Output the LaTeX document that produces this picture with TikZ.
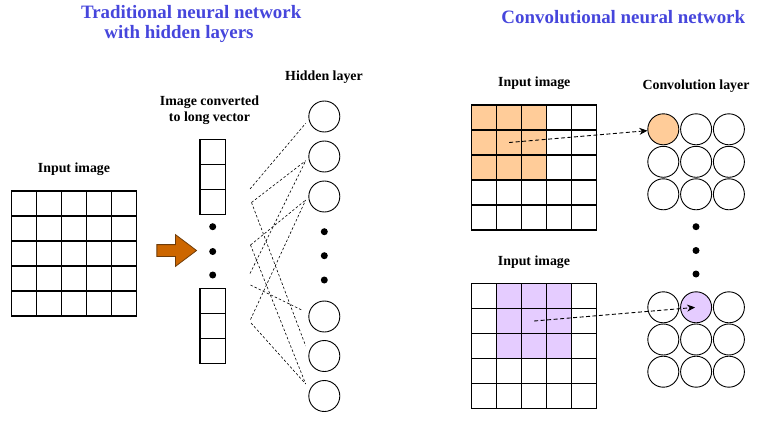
\documentclass[tikz,border=0pt]{standalone}
\usepackage{fontspec}
\setmainfont{Liberation Serif}
\usetikzlibrary{shapes.arrows,arrows.meta}
\definecolor{titleblue}{RGB}{70,70,220}
\definecolor{kernelorange}{RGB}{255,204,153}
\definecolor{kernelpurple}{RGB}{229,204,255}
\definecolor{arroworange}{RGB}{204,102,0}
\definecolor{arrowline}{RGB}{110,60,10}

\begin{document}
\begin{tikzpicture}[
  x=1pt, y=-1pt,
  % GLOBAL CFG
  font=\fontsize{13.9}{15.6}\selectfont\bfseries,
  % Styles
  heading/.style={% For the blue titles
      text=titleblue,
      font=\fontsize{18.9}{20.6}\selectfont\bfseries,
      anchor=base,
      inner sep=0pt,
      },
  mylabel/.style={% Labels over the parts
      anchor=base,
      inner sep=0pt,
      },
  pix/.style={% One pixel of an image
      rectangle,
      draw,
      line width=1.1pt,
      minimum size=25pt,
      inner sep=0pt,
      },
  vec/.style={% One entry of the long vector
      rectangle,
      draw,
      line width=1.1pt,
      minimum width=25.7pt,
      minimum height=25pt,
      inner sep=0pt,
      },
  unit/.style={% Neurons
      circle,
      draw,
      line width=.9pt,
      minimum size=31pt,
      inner sep=0pt,
      },
  vdots/.style={% The three dots
      circle,
      fill=black,
      minimum size=7pt,
      inner sep=0pt,
      },
  wire/.style={% Dashed links to the hidden layer
      line width=.6pt,
      dash pattern=on 2.5pt off 2pt,
      },
  ArrowC1/.style={% Patch to unit
      line width=.9pt,
      dash pattern=on 4pt off 2.5pt,
      -{Stealth[length=8pt,width=7pt]},
      },
  ]

  \useasboundingbox (0,0) rectangle (759,425);

  % Titles
  \node [heading] (tradA) at (191.2,18.3) {Traditional neural network};
  \node [heading] (tradB) at (179,38.3) {with hidden layers};
  \node [heading] (cnn) at (623.3,24) {Convolutional neural network};

  % Left: image -> long vector -> hidden layer
  \node [mylabel] (inL) at (74,172) {Input image};
  \foreach \r in {0,...,4}
    \foreach \c in {0,...,4}
      \node [pix] (L-\r-\c) at (24.2+25*\c, 203.5+25*\r) {};

  \node [single arrow, draw=arrowline, fill=arroworange, line width=.8pt,
         minimum height=39.7pt, inner xsep=0pt, inner ysep=5.5pt,
         single arrow head extend=10pt, single arrow tip angle=74] (flat) at (172.8,250.5) {};

  \node [mylabel, anchor=center, align=center] (vlab) at (209.5,110) {Image converted\\to long vector};
  \foreach \i/\y in {1/151.8,2/176.8,3/201.8,4/300.8,5/325.8,6/350.8}
    \node [vec] (v\i) at (212.8,\y) {};
  \foreach \i/\y in {1/226.7,2/251.5,3/275}
    \node [vdots] (vd\i) at (212.7,\y) {};

  \node [mylabel] (hlab) at (324,80.7) {Hidden layer};
  \foreach \i/\y in {1/116.5,2/156.5,3/196.5,4/316.5,5/356,6/396}
    \node [unit] (h\i) at (324.3,\y) {};
  \foreach \i/\y in {1/231.7,2/255.7,3/280}
    \node [vdots] (hd\i) at (324.3,\y) {};

  % free ends of the links
  \coordinate (l1) at (250,189);
  \coordinate (l2) at (251.5,202.5);
  \coordinate (l3) at (250.5,245);
  \coordinate (l4) at (250,273.5);
  \coordinate (l5) at (250.5,285);
  \coordinate (l6) at (250.5,319.5);
  \coordinate (l7) at (251,323);
  \coordinate (r1) at (305.7,123.3);
  \coordinate (r2) at (305.7,160.7);
  \coordinate (r3) at (305.7,200);
  \coordinate (r4) at (301.7,310);
  \coordinate (r5) at (305.7,346);
  \coordinate (r6) at (305.7,384);
  \foreach \a/\b in {l1/r1,l2/r2,l2/r5,l3/r3,l3/r6,l4/r2,l5/r4,l6/r3,l7/r6}
    \draw [wire] (\a) -- (\b);

  % Right: convolution, first patch
  \node [mylabel] (inT) at (534.3,86.7) {Input image};
  \node [mylabel] (clab) at (696,89.3) {Convolution layer};
  \foreach \r in {0,...,4}
    \foreach \c in {0,...,4} {
      \ifnum\r<3 \ifnum\c<3 \def\pixfill{kernelorange}\else\def\pixfill{white}\fi
      \else\def\pixfill{white}\fi
      \node [pix, fill=\pixfill] (T-\r-\c) at (484.2+25*\c, 117.5+25*\r) {};
    }
  \foreach \r in {0,...,2}
    \foreach \c in {0,...,2} {
      \ifnum\r=0 \ifnum\c=0 \def\pixfill{kernelorange}\else\def\pixfill{white}\fi
      \else\def\pixfill{white}\fi
      \node [unit, fill=\pixfill] (ct-\r-\c) at (663.3+32.8*\c, 129.3+32.5*\r) {};
    }
  \draw [ArrowC1] (T-1-1.center) -- (ct-0-0);

  \foreach \i/\y in {1/226.7,2/250.5,3/274}
    \node [vdots] (cd\i) at (696,\y) {};

  % Right: convolution, shifted patch
  \node [mylabel] (inB) at (534,265.7) {Input image};
  \foreach \r in {0,...,4}
    \foreach \c in {0,...,4} {
      \def\pixfill{white}
      \ifnum\r<3 \ifnum\c>0 \ifnum\c<4 \def\pixfill{kernelpurple}\fi\fi\fi
      \node [pix, fill=\pixfill] (B-\r-\c) at (484.2+25*\c, 296+25*\r) {};
    }
  \foreach \r in {0,...,2}
    \foreach \c in {0,...,2} {
      \def\pixfill{white}
      \ifnum\r=0 \ifnum\c=1 \def\pixfill{kernelpurple}\fi\fi
      \node [unit, fill=\pixfill] (cb-\r-\c) at (663.3+32.8*\c, 307.3+32.2*\r) {};
    }
  \draw [ArrowC1, shorten >=1pt] (B-1-2.center) -- (cb-0-1.center);

\end{tikzpicture}
\end{document}
